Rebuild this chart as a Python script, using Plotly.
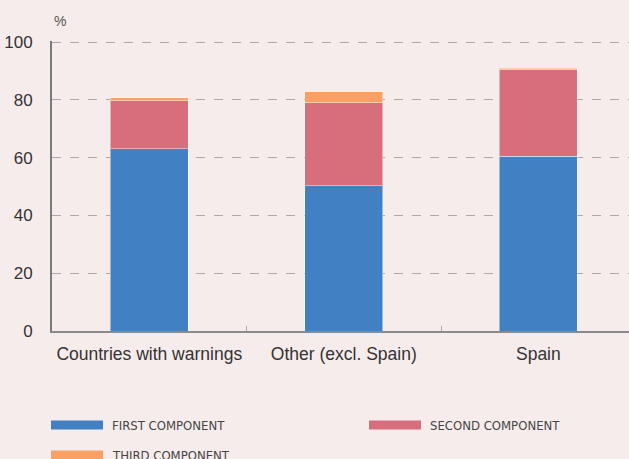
import plotly.graph_objects as go

categories = ["Countries with warnings", "Other (excl. Spain)", "Spain"]
first = [63.1, 50.3, 60.5]
second = [16.6, 28.8, 30.0]
third = [1.0, 3.7, 0.4]
series_names = ["FIRST COMPONENT", "SECOND COMPONENT", "THIRD COMPONENT"]
colors = ["#4180C3", "#D86D7B", "#F9A064"]
yticks = [0, 20, 40, 60, 80, 100]

W, H = 629, 459
ML, MR, MT, MB = 52, 0, 41, 128
BG = "#F7ECEC"

fig = go.Figure()
for name, vals, col in zip(series_names, [first, second, third], colors):
    fig.add_trace(go.Bar(
        x=categories, y=vals, name=name, marker_color=col,
        marker_line=dict(color="rgba(255,255,255,0.45)", width=1),
        width=0.4, showlegend=False,
    ))

fig.update_layout(
    barmode="stack",
    width=W, height=H,
    margin=dict(l=ML, r=MR, t=MT, b=MB),
    paper_bgcolor=BG, plot_bgcolor=BG,
    font=dict(family="Liberation Sans, Arial", color="#333333", size=17),
)
fig.update_xaxes(
    range=[-0.5, 2.466], showgrid=False, showline=True, linecolor="#8a8a8a", linewidth=1.5,
    ticks="inside", tickson="boundaries", ticklen=5, tickcolor="#aaaaaa",
    tickangle=0, ticklabelstandoff=6, tickfont=dict(size=17.5, color="#333333"),
)
fig.update_yaxes(
    range=[0, 100.4], tickvals=yticks, showgrid=True, gridcolor="#a9a9a9", griddash="dash", gridwidth=1,
    showline=True, linecolor="#7a7a7a", linewidth=2, zeroline=False,
    ticks="", ticklabelstandoff=14, tickfont=dict(size=17, color="#333333"),
)

fig.add_annotation(text="%", xref="paper", yref="paper", x=0.0, y=1.0, yshift=20,
                   xanchor="left", yanchor="middle", showarrow=False,
                   font=dict(size=14, color="#555555"))

# manual legend (wide swatches)
PW = W - ML - MR
PH = H - MT - MB
legend_pos = [(51, 425), (369, 425), (51, 455)]
for (lx, ly), name, col in zip(legend_pos, series_names, colors):
    fig.add_shape(type="rect", xref="paper", yref="paper",
                  x0=(lx - ML) / PW, x1=(lx + 52 - ML) / PW,
                  y0=(H - MB - (ly + 4.5)) / PH, y1=(H - MB - (ly - 4.5)) / PH,
                  fillcolor=col, line_width=0)
    fig.add_annotation(text=name, xref="paper", yref="paper",
                       x=(lx + 59 - ML) / PW, y=(H - MB - ly - 0.5) / PH,
                       xanchor="left", yanchor="middle", showarrow=False,
                       font=dict(family="DejaVu Sans Condensed, Liberation Sans",
                                 size=13, color="#444444"))

fig.write_html("out.html", config={"displayModeBar": False},
               post_script=f"document.body.style.margin='0';document.body.style.background='{BG}';")
